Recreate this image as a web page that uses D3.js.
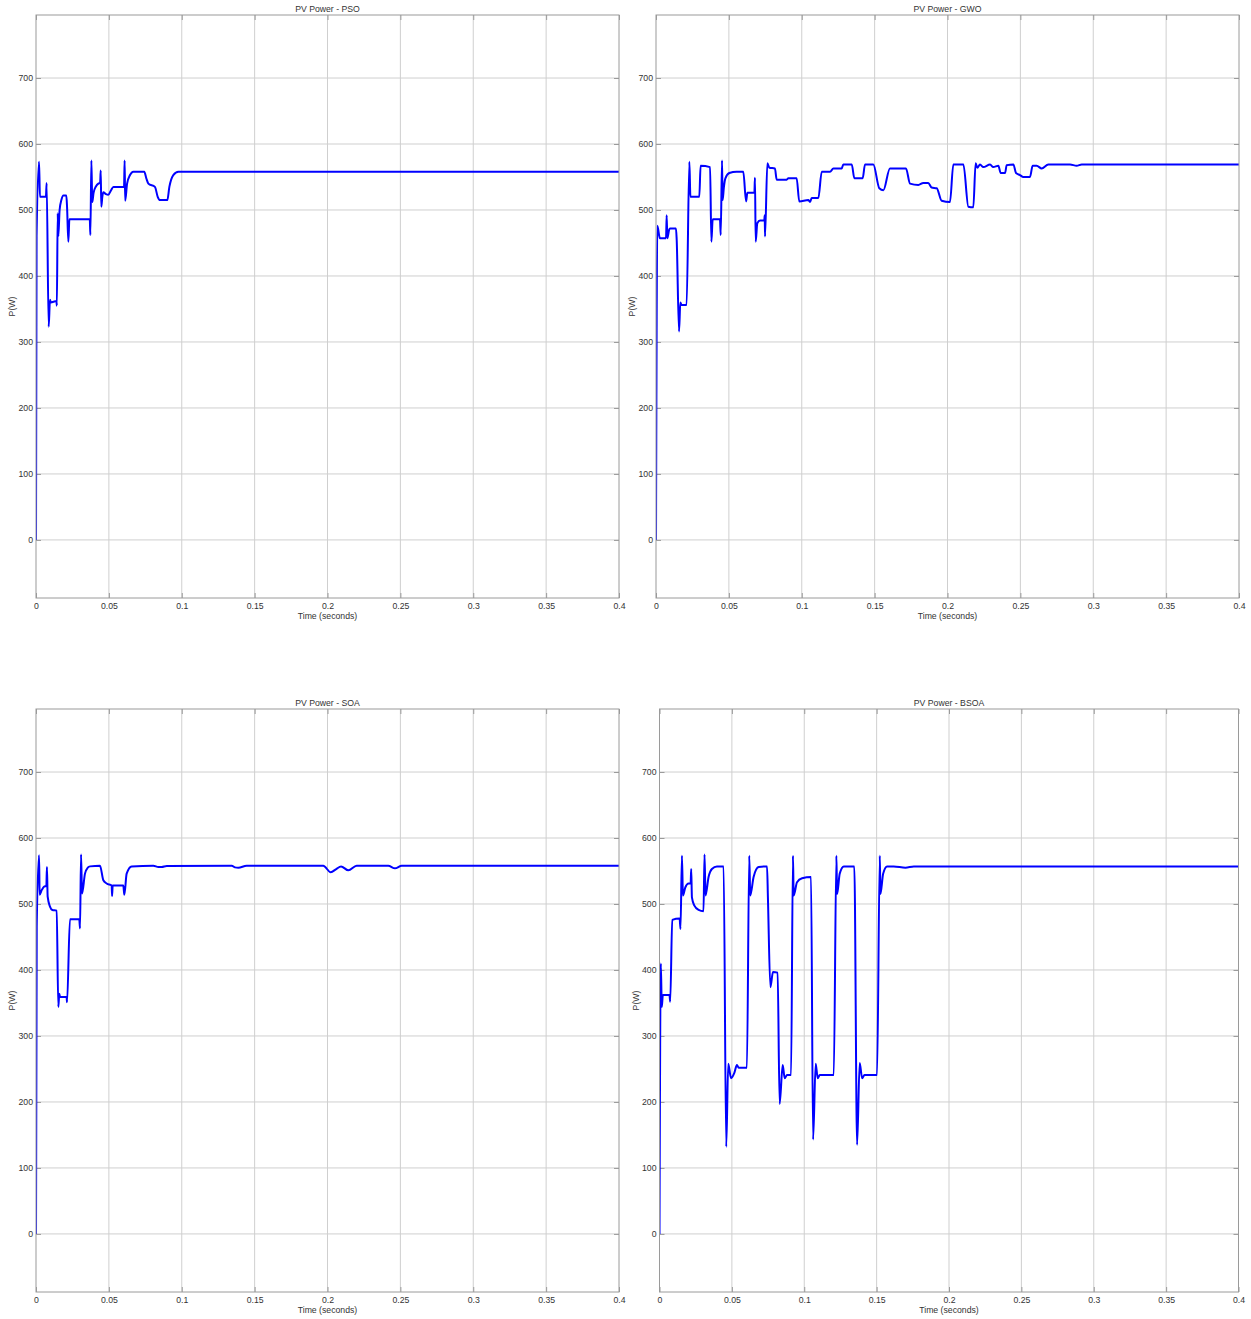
<!DOCTYPE html>
<html>
<head>
<meta charset="utf-8">
<script src="https://cdn.jsdelivr.net/npm/d3@7"></script>
<style>
  html, body { margin: 0; padding: 0; background: #fff; }
  svg { display: block; }
  text { font-family: "Liberation Sans", Arial, Helvetica, sans-serif; fill: #333; }
</style>
</head>
<body>
<script>
// PV power traces [time (s), power (W)] for each MPPT algorithm
const psoPower = [
  [0, 0], [0.0004, 460], [0.0021, 573], [0.0027, 520], [0.0068, 520], [0.0073, 541],
  [0.0087, 323], [0.0096, 364], [0.0101, 360], [0.0140, 362], [0.0143, 355], [0.0149, 495],
  [0.0153, 460], [0.0162, 500], [0.0175, 516], [0.0188, 522], [0.0208, 522], [0.0213, 505],
  [0.0222, 452], [0.0229, 486], [0.0369, 486], [0.0373, 462], [0.0380, 575], [0.0386, 512],
  [0.0395, 526], [0.0412, 536], [0.0428, 540], [0.0440, 541], [0.0444, 560], [0.0448, 505],
  [0.0455, 520], [0.0462, 527], [0.0480, 524], [0.0496, 523], [0.0515, 530], [0.0531, 535],
  [0.0604, 535], [0.0608, 575], [0.0612, 514], [0.0625, 540], [0.0645, 553], [0.0668, 558],
  [0.0743, 558], [0.0757, 548], [0.0771, 540], [0.0816, 535], [0.0835, 520], [0.0851, 515],
  [0.0901, 515], [0.0915, 535], [0.0942, 553], [0.0977, 558], [0.4, 558]
];

const gwoPower = [
  [0, 0], [0.0009, 476], [0.0027, 457], [0.0069, 457], [0.0073, 492], [0.0078, 457],
  [0.0090, 470], [0.0096, 472], [0.0137, 472], [0.0142, 455], [0.0158, 316], [0.0167, 360],
  [0.0176, 356], [0.0210, 356], [0.0229, 573], [0.0236, 520], [0.0297, 520], [0.0306, 567],
  [0.0371, 565], [0.0380, 452], [0.0389, 486], [0.0439, 486], [0.0444, 462], [0.0453, 575],
  [0.0457, 515], [0.0466, 535], [0.0476, 548], [0.0503, 556], [0.0553, 558], [0.0599, 558],
  [0.0618, 513], [0.0627, 526], [0.0675, 526], [0.0679, 549], [0.0684, 452], [0.0695, 480],
  [0.0714, 484], [0.0743, 484], [0.0746, 492], [0.0748, 460], [0.0764, 571], [0.0778, 564],
  [0.0816, 563], [0.0828, 546], [0.0897, 546], [0.0908, 548], [0.0965, 548], [0.0983, 513],
  [0.1045, 515], [0.1057, 512], [0.1068, 518], [0.1114, 518], [0.1137, 558], [0.1194, 558],
  [0.1217, 563], [0.1274, 563], [0.1285, 569], [0.1343, 569], [0.1361, 548], [0.1418, 548],
  [0.1434, 569], [0.1491, 569], [0.1532, 533], [0.1560, 530], [0.1605, 563], [0.1715, 563],
  [0.1743, 540], [0.1800, 538], [0.1834, 541], [0.1868, 541], [0.1891, 534], [0.1926, 533],
  [0.1960, 514], [0.2017, 512], [0.2040, 569], [0.2109, 569], [0.2143, 505], [0.2177, 504],
  [0.2193, 571], [0.2205, 564], [0.2223, 569], [0.2246, 565], [0.2292, 569], [0.2314, 565],
  [0.2349, 567], [0.2365, 556], [0.2395, 556], [0.2406, 568], [0.2452, 569], [0.2470, 556],
  [0.2497, 553], [0.2520, 550], [0.2566, 550], [0.2584, 567], [0.2612, 567], [0.2646, 563],
  [0.2692, 569], [0.2841, 569], [0.2886, 567], [0.2921, 569], [0.4, 569]
];

const soaPower = [
  [0, 0], [0.0005, 466], [0.0021, 574], [0.0025, 514], [0.0039, 521], [0.0062, 527],
  [0.0071, 527], [0.0075, 556], [0.0080, 511], [0.0096, 496], [0.0112, 491], [0.0142, 490],
  [0.0153, 344], [0.0160, 364], [0.0165, 359], [0.0210, 359], [0.0213, 351], [0.0233, 477],
  [0.0297, 477], [0.0302, 463], [0.0309, 575], [0.0316, 516], [0.0336, 546], [0.0355, 555],
  [0.0371, 557], [0.0439, 558], [0.0462, 536], [0.0485, 531], [0.0519, 528], [0.0522, 512],
  [0.0526, 528], [0.0599, 528], [0.0606, 514], [0.0622, 546], [0.0656, 557], [0.0805, 558],
  [0.0840, 556], [0.0862, 556], [0.0897, 557.5], [0.1343, 558], [0.1365, 555.5], [0.1388, 555],
  [0.1445, 558], [0.1971, 558], [0.2022, 548], [0.2060, 553], [0.2093, 557], [0.2143, 551],
  [0.2200, 558], [0.2417, 558], [0.2463, 554], [0.2509, 558], [0.4, 558]
];

const bsoaPower = [
  [0, 0], [0.0009, 410], [0.0016, 344], [0.0023, 362], [0.0069, 362], [0.0074, 352],
  [0.0088, 476], [0.0139, 478], [0.0145, 462], [0.0155, 573], [0.0162, 513], [0.0178, 525],
  [0.0201, 531], [0.0215, 531], [0.0219, 553], [0.0224, 510], [0.0240, 498], [0.0270, 491],
  [0.0304, 489], [0.0311, 575], [0.0318, 513], [0.0339, 541], [0.0362, 553], [0.0397, 557],
  [0.0443, 557], [0.0461, 132], [0.0475, 258], [0.0494, 236], [0.0517, 244], [0.0535, 256],
  [0.0547, 252], [0.0604, 252], [0.0620, 573], [0.0627, 513], [0.0650, 541], [0.0685, 556],
  [0.0743, 557], [0.0749, 510], [0.0766, 374], [0.0784, 397], [0.0816, 396], [0.0830, 197],
  [0.0851, 256], [0.0865, 236], [0.0881, 241], [0.0909, 241], [0.0922, 573], [0.0927, 513],
  [0.0950, 533], [0.0985, 539], [0.1047, 541], [0.1061, 143], [0.1079, 258], [0.1093, 236],
  [0.1107, 241], [0.1204, 241], [0.1222, 573], [0.1227, 515], [0.1245, 546], [0.1273, 557],
  [0.1346, 557], [0.1365, 135], [0.1383, 259], [0.1400, 236], [0.1416, 241], [0.1503, 241],
  [0.1522, 573], [0.1526, 515], [0.1545, 546], [0.1572, 557], [0.1618, 557], [0.1699, 555],
  [0.1757, 557], [0.4, 557]
];

const panelTitles = ["PV Power - PSO", "PV Power - GWO", "PV Power - SOA", "PV Power - BSOA"];
const xTicks = [0, 0.05, 0.1, 0.15, 0.2, 0.25, 0.3, 0.35, 0.4];
const xTickLabels = ["0", "0.05", "0.1", "0.15", "0.2", "0.25", "0.3", "0.35", "0.4"];
const yTicks = [0, 100, 200, 300, 400, 500, 600, 700];
const xDomain = [0, 0.4];
const yDomain = [-88, 795.5];

const W = 1251, H = 1319;
const svg = d3.select("body").append("svg").attr("width", W).attr("height", H);

// plot-area boxes for the 2x2 grid of scopes
const panels = [
  { title: panelTitles[0], data: psoPower,  left: 36,    top: 15,  width: 583, height: 583 },
  { title: panelTitles[1], data: gwoPower,  left: 656,   top: 15,  width: 583, height: 583 },
  { title: panelTitles[2], data: soaPower,  left: 36,    top: 709, width: 583, height: 583 },
  { title: panelTitles[3], data: bsoaPower, left: 659.5, top: 709, width: 579, height: 583 }
];

const fontSize = 8.7;
const gridColor = "#cfcfcf";
const frameColor = "#9a9a9a";

panels.forEach((p, i) => {
  const x = d3.scaleLinear().domain(xDomain).range([0, p.width]);
  const y = d3.scaleLinear().domain(yDomain).range([p.height, 0]);
  const g = svg.append("g").attr("transform", `translate(${p.left},${p.top})`);

  // grid lines
  g.append("g").selectAll("line").data(xTicks.slice(1, -1)).join("line")
    .attr("x1", d => x(d)).attr("x2", d => x(d))
    .attr("y1", 0).attr("y2", p.height)
    .attr("stroke", gridColor).attr("stroke-width", 1);
  g.append("g").selectAll("line").data(yTicks).join("line")
    .attr("x1", 0).attr("x2", p.width)
    .attr("y1", d => y(d)).attr("y2", d => y(d))
    .attr("stroke", gridColor).attr("stroke-width", 1);

  // axes with inward tick marks (labels on bottom/left only)
  const xAxis = d3.axisBottom(x).tickValues(xTicks)
    .tickFormat((d, k) => xTickLabels[k]).tickSizeInner(-5).tickSizeOuter(0).tickPadding(5);
  const yAxis = d3.axisLeft(y).tickValues(yTicks)
    .tickFormat(d3.format("d")).tickSizeInner(-5).tickSizeOuter(0).tickPadding(3);
  const xTop = d3.axisTop(x).tickValues(xTicks).tickFormat("").tickSizeInner(-5).tickSizeOuter(0);
  const yRight = d3.axisRight(y).tickValues(yTicks).tickFormat("").tickSizeInner(-5).tickSizeOuter(0);

  const styleAxis = sel => {
    sel.select(".domain").remove();
    sel.selectAll(".tick line").attr("stroke", frameColor);
    sel.selectAll("text").attr("font-size", fontSize).attr("fill", "#333")
      .attr("font-family", "Liberation Sans, Arial, sans-serif");
  };
  g.append("g").attr("transform", `translate(0,${p.height})`).call(xAxis).call(styleAxis);
  g.append("g").call(yAxis).call(styleAxis);
  g.append("g").call(xTop).call(styleAxis);
  g.append("g").attr("transform", `translate(${p.width},0)`).call(yRight).call(styleAxis);

  // clipped signal trace
  const clipId = "clip" + i;
  g.append("clipPath").attr("id", clipId).append("rect")
    .attr("x", 0).attr("y", 0).attr("width", p.width).attr("height", p.height);
  const line = d3.line().x(d => x(d[0])).y(d => y(d[1])).curve(d3.curveMonotoneX);
  g.append("path").datum(p.data)
    .attr("clip-path", `url(#${clipId})`)
    .attr("fill", "none").attr("stroke", "#0000ff").attr("stroke-width", 2)
    .attr("stroke-linejoin", "round").attr("d", line);

  // frame
  g.append("rect").attr("x", 0).attr("y", 0).attr("width", p.width).attr("height", p.height)
    .attr("fill", "none").attr("stroke", frameColor).attr("stroke-width", 1);

  // title and axis labels
  g.append("text").attr("x", p.width / 2).attr("y", -3)
    .attr("text-anchor", "middle").attr("font-size", fontSize).text(p.title);
  g.append("text").attr("x", p.width / 2).attr("y", p.height + 21)
    .attr("text-anchor", "middle").attr("font-size", fontSize).text("Time (seconds)");
  g.append("text")
    .attr("transform", `translate(-21,${p.height / 2}) rotate(-90)`)
    .attr("text-anchor", "middle").attr("font-size", fontSize).text("P(W)");
});
</script>
</body>
</html>
